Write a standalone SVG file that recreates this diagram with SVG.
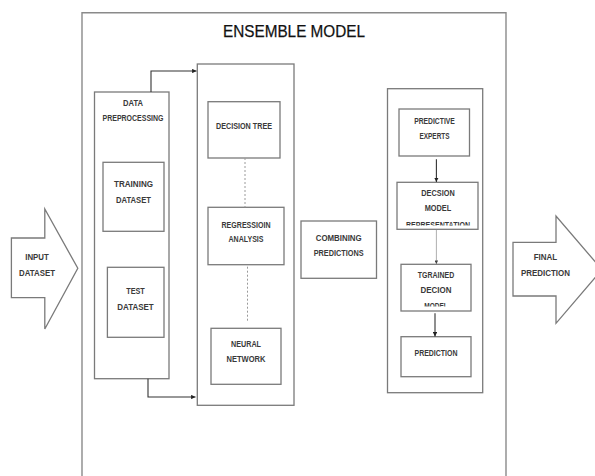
<svg xmlns="http://www.w3.org/2000/svg" width="595" height="476" viewBox="0 0 595 476">
  <style>
    .box { fill: #fff; stroke: #7a7a7a; stroke-width: 1.3; }
    .big { fill: none; stroke: #8a8a8a; stroke-width: 1.4; }
    .lbl { font-family: "Liberation Sans", Arial, sans-serif; font-size: 8.5px; font-weight: bold; fill: #3a3a3a; text-anchor: middle; }
    .title { font-family: "Liberation Sans", Arial, sans-serif; font-size: 17px; fill: #111; text-anchor: middle; stroke: #111; stroke-width: 0.25; }
    .wire { fill: none; stroke: #333; stroke-width: 1.1; }
    .dot { fill: none; stroke: #9a9a9a; stroke-width: 1; stroke-dasharray: 2 2; }
    .thin { fill: none; stroke: #9a9a9a; stroke-width: 0.8; }
  </style>
  <defs>
    <marker id="head" viewBox="0 0 8 8" refX="8" refY="4" markerWidth="4" markerHeight="4" orient="auto">
      <path d="M0,0 L8,4 L0,8 z" fill="#222"/>
    </marker>
    <marker id="headThin" viewBox="0 0 8 8" refX="8" refY="4" markerWidth="4.5" markerHeight="4.5" orient="auto">
      <path d="M0,0 L8,4 L0,8 z" fill="#444"/>
    </marker>
    <clipPath id="clipRep"><rect x="397" y="182" width="81" height="43.5"/></clipPath>
    <clipPath id="clipModel"><rect x="401" y="264" width="70" height="42.5"/></clipPath>
  </defs>

  <rect width="595" height="476" fill="#fff"/>

  <!-- outer ensemble frame -->
  <g id="ensemble">
    <path class="big" d="M82,480 V12.7 H506 V480"/>
    <text class="title" x="294" y="37.3" textLength="142" lengthAdjust="spacingAndGlyphs">ENSEMBLE MODEL</text>
  </g>

  <!-- input arrow -->
  <g id="input">
    <path class="box" d="M11.4,238 H44.8 V209 L77.8,268.3 L44.8,329 V297.7 H11.4 Z"/>
    <text class="lbl" x="37" y="259.7" textLength="23.5" lengthAdjust="spacingAndGlyphs">INPUT</text>
    <text class="lbl" x="37" y="275.7" textLength="36" lengthAdjust="spacingAndGlyphs">DATASET</text>
  </g>

  <!-- data preprocessing -->
  <g id="preprocessing">
    <rect class="box" x="94.5" y="92" width="74.5" height="286.7"/>
    <text class="lbl" x="133" y="106.3" textLength="20" lengthAdjust="spacingAndGlyphs">DATA</text>
    <text class="lbl" x="133" y="120.7" textLength="61" lengthAdjust="spacingAndGlyphs">PREPROCESSING</text>
  </g>
  <g id="training">
    <rect class="box" x="103" y="162.3" width="61" height="69"/>
    <text class="lbl" x="133.5" y="187" textLength="39" lengthAdjust="spacingAndGlyphs">TRAINING</text>
    <text class="lbl" x="133.5" y="203" textLength="35" lengthAdjust="spacingAndGlyphs">DATASET</text>
  </g>
  <g id="test">
    <rect class="box" x="107.4" y="267.3" width="56.6" height="70"/>
    <text class="lbl" x="135.5" y="293.7" textLength="18.6" lengthAdjust="spacingAndGlyphs">TEST</text>
    <text class="lbl" x="135.5" y="309.7" textLength="36.5" lengthAdjust="spacingAndGlyphs">DATASET</text>
  </g>

  <!-- base learners -->
  <g id="learners">
    <rect class="box" x="197.3" y="64" width="96.7" height="341.3"/>
  </g>
  <g id="decision-tree">
    <rect class="box" x="208" y="101.7" width="72" height="56.3"/>
    <text class="lbl" x="244" y="129" textLength="56" lengthAdjust="spacingAndGlyphs">DECISION TREE</text>
  </g>
  <g id="regression">
    <rect class="box" x="208" y="207.3" width="76" height="57.4"/>
    <text class="lbl" x="246" y="228" textLength="49" lengthAdjust="spacingAndGlyphs">REGRESSIOIN</text>
    <text class="lbl" x="246" y="242.3" textLength="35" lengthAdjust="spacingAndGlyphs">ANALYSIS</text>
  </g>
  <g id="neural-network">
    <rect class="box" x="211" y="328.3" width="70" height="56"/>
    <text class="lbl" x="246" y="347.3" textLength="30" lengthAdjust="spacingAndGlyphs">NEURAL</text>
    <text class="lbl" x="246" y="361.7" textLength="39" lengthAdjust="spacingAndGlyphs">NETWORK</text>
  </g>

  <!-- combining -->
  <g id="combining">
    <rect class="box" x="301" y="221" width="75.5" height="57.3"/>
    <text class="lbl" x="338.7" y="241.3" textLength="46" lengthAdjust="spacingAndGlyphs">COMBINING</text>
    <text class="lbl" x="338.7" y="256.3" textLength="50" lengthAdjust="spacingAndGlyphs">PREDICTIONS</text>
  </g>

  <!-- decision pipeline -->
  <g id="pipeline">
    <rect class="box" x="387.5" y="88.7" width="95.2" height="304"/>
  </g>
  <g id="predictive-experts">
    <rect class="box" x="399" y="109" width="70.5" height="47"/>
    <text class="lbl" x="434.5" y="124" textLength="40.6" lengthAdjust="spacingAndGlyphs">PREDICTIVE</text>
    <text class="lbl" x="434.5" y="139" textLength="30" lengthAdjust="spacingAndGlyphs">EXPERTS</text>
  </g>
  <g id="model-representation">
    <rect class="box" x="397" y="182.3" width="81" height="47"/>
    <text class="lbl" x="438" y="196.3" textLength="33.4" lengthAdjust="spacingAndGlyphs">DECSION</text>
    <text class="lbl" x="438" y="211" textLength="26.6" lengthAdjust="spacingAndGlyphs">MODEL</text>
    <text class="lbl" x="438" y="227.5" textLength="64" lengthAdjust="spacingAndGlyphs" clip-path="url(#clipRep)">REPRESENTATION</text>
  </g>
  <g id="trained-model">
    <rect class="box" x="401" y="264.3" width="70" height="46.7"/>
    <text class="lbl" x="436" y="278.3" textLength="36.4" lengthAdjust="spacingAndGlyphs">TGRAINED</text>
    <text class="lbl" x="436" y="293" textLength="31" lengthAdjust="spacingAndGlyphs">DECION</text>
    <text class="lbl" x="436" y="309" textLength="23.5" lengthAdjust="spacingAndGlyphs" clip-path="url(#clipModel)">MODEL</text>
  </g>
  <g id="prediction">
    <rect class="box" x="401" y="336.7" width="70" height="40"/>
    <text class="lbl" x="436" y="355.7" textLength="43" lengthAdjust="spacingAndGlyphs">PREDICTION</text>
  </g>

  <!-- output arrow -->
  <g id="final-prediction">
    <path class="box" d="M513,242.3 H556 V216 L602,269.7 L556,323.3 V296 H513 Z"/>
    <text class="lbl" x="545.5" y="260.3" textLength="23.5" lengthAdjust="spacingAndGlyphs">FINAL</text>
    <text class="lbl" x="545.5" y="276.3" textLength="49" lengthAdjust="spacingAndGlyphs">PREDICTION</text>
  </g>

  <!-- connectors -->
  <g id="connectors">
    <path class="wire" d="M151,92 V71 H196.5" marker-end="url(#head)"/>
    <path class="wire" d="M148,378.7 V397 H195.5" marker-end="url(#head)"/>
    <path class="dot" d="M245,158 V207.3"/>
    <path class="dot" d="M247.5,266.7 V322.7"/>
    <path class="wire" d="M436.4,159.3 V182" marker-end="url(#head)"/>
    <path class="thin" d="M436.4,230 V264" marker-end="url(#headThin)"/>
    <path class="wire" d="M435,313.3 V336.5" marker-end="url(#head)"/>
  </g>
</svg>
